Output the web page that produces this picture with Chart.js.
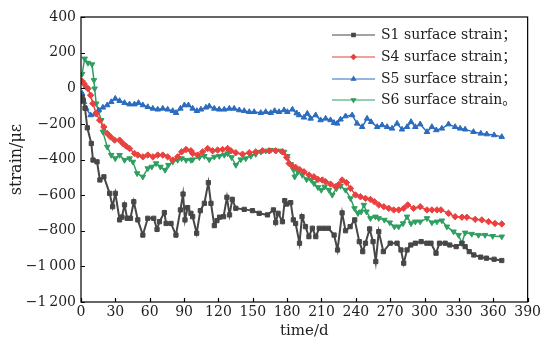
<!DOCTYPE html>
<html>
<head>
<meta charset="utf-8">
<script src="https://cdn.jsdelivr.net/npm/chart.js@4.4.1/dist/chart.umd.min.js"></script>
<style>
  html, body { margin: 0; padding: 0; background: #fff; }
  canvas { display: block; }
</style>
</head>
<body>
<canvas id="strainChart" width="543" height="342"></canvas>
<script>
// strain vs time, four surface gauges (S1, S4, S5, S6)
// each point is [day, strain in microstrain]

const xTicks = [0, 30, 60, 90, 120, 150, 180, 210, 240, 270, 300, 330, 360, 390];
const yTicks = [400, 200, 0, -200, -400, -600, -800, -1000, -1200];
const seriesNames = ['S1 surface strain\uFF1B', 'S4 surface strain\uFF1B', 'S5 surface strain\uFF1B', 'S6 surface strain\u3002'];

const s1 = [[1,-50],[2,-67],[3.5,-112],[5.5,-222],[9,-310],[10.5,-403],[14,-413],[16.5,-515],[20,-497],[25,-590],
  [27.6,-665],[30,-590],[33.7,-739],[35.7,-723],[38,-655],[40.3,-730],[43.2,-730],[46.1,-637],[49.6,-739],[54,-824],
  [58.3,-730],[63.5,-730],[66.4,-792],[68.5,-749],[72.8,-698],[74.3,-759],[78.6,-759],[82.9,-824],[86.8,-683],[89.1,-594],
  [90.8,-739],[93.1,-670],[96,-702],[97.5,-721],[101,-814],[104.2,-687],[107.7,-646],[111.2,-530],[113.5,-646],[116.4,-771],
  [118.7,-743],[121,-724],[124.5,-721],[127.4,-612],[129.7,-711],[132.1,-624],[135.2,-674],[142.5,-680],[149.7,-687],[155.6,-702],
  [162.8,-711],[168,-683],[170,-754],[172.1,-702],[175.9,-749],[177.9,-631],[179.6,-650],[183.1,-642],[185.4,-739],[187.4,-759],
  [190.8,-870],[193,-721],[196,-777],[199,-833],[202,-786],[205,-833],[208,-786],[212,-786],[216,-786],[221,-824],
  [224,-908],[228,-700],[231,-800],[235,-777],[239,-739],[243,-861],[246,-917],[248.4,-870],[252,-790],[255,-861],
  [257.4,-973],[260,-805],[264,-917],[270,-870],[276,-870],[279.4,-908],[281.8,-982],[284.7,-908],[288,-880],[292,-870],
  [297,-861],[302,-870],[305.6,-870],[310,-926],[313,-870],[318,-870],[322,-880],[327.6,-889],[332.6,-870],[335.4,-889],
  [339,-917],[343,-936],[349,-948],[354,-954],[360.7,-960],[367.4,-967]];

const s4 = [[1,40],[2.6,26],[4.6,7],[6.1,-2],[8.4,-39],[10.4,-86],[13.3,-142],[16.3,-179],[20,-217],[22.9,-254],
  [25.8,-273],[29.3,-291],[33.7,-291],[36.6,-310],[39.4,-325],[42.4,-338],[46.7,-366],[49.6,-375],[54,-385],[58.3,-375],
  [62.7,-385],[67,-375],[71.4,-375],[75.7,-385],[80.1,-403],[84.4,-385],[87.9,-357],[91.7,-344],[96,-351],[97.5,-366],
  [101.8,-375],[106.2,-357],[110.6,-338],[114.9,-351],[119.3,-347],[123.6,-344],[128,-338],[130.9,-351],[135.2,-362],[141,-370],
  [146.9,-362],[152.6,-357],[158.4,-351],[164.3,-351],[170,-351],[175.9,-357],[179.6,-388],[181.7,-422],[184.6,-437],[187.4,-444],
  [191,-457],[194.7,-469],[199.1,-487],[203.4,-497],[206.9,-512],[210.7,-515],[213.6,-525],[217.9,-538],[222.3,-553],[225,-540],
  [228,-515],[231.8,-530],[235.3,-562],[239.7,-599],[244,-609],[248.4,-618],[252.7,-624],[256.2,-637],[260,-655],[264.4,-665],
  [268.7,-674],[273.1,-683],[277.4,-683],[281.8,-674],[285.3,-655],[290.4,-674],[296.2,-665],[302.1,-683],[306.4,-683],[310.8,-683],
  [314.3,-683],[320.9,-702],[326.7,-721],[332.6,-724],[336.9,-724],[344.2,-736],[350,-739],[355.8,-749],[361.5,-759],[367.4,-762]];

const s5 = [[1,-30],[2.6,-77],[4.6,-114],[8.4,-151],[11.9,-146],[15.4,-123],[19.1,-108],[22.9,-95],[26.4,-77],[29.9,-58],
  [33.7,-71],[38,-82],[42.4,-90],[46.7,-90],[50.2,-82],[54,-95],[58.3,-105],[62.7,-114],[67,-119],[71.4,-114],
  [75.7,-119],[80.1,-127],[83,-138],[86.8,-114],[90.3,-95],[93.8,-95],[97.5,-114],[101.2,-127],[104.7,-119],[109.1,-108],
  [112,-101],[116.4,-114],[120.7,-119],[125.1,-119],[129.5,-114],[133.8,-114],[138.2,-123],[142.5,-127],[146.9,-133],[151.2,-133],
  [157,-138],[161.3,-133],[165.7,-138],[169.1,-127],[172.9,-133],[177.3,-123],[180.2,-133],[184.6,-119],[188.3,-140],[190.4,-151],
  [194.7,-164],[197.6,-142],[200.5,-170],[204.9,-151],[209.2,-179],[213.6,-170],[217.9,-179],[220.9,-194],[223.7,-198],[226.6,-175],
  [231,-157],[236.8,-151],[241.1,-198],[245.5,-217],[249.8,-170],[253.3,-189],[258.6,-217],[262.9,-207],[267.3,-217],[271.6,-226],
  [276,-198],[280.3,-231],[284.7,-217],[288.2,-189],[291.9,-217],[296.2,-202],[302.1,-245],[306.4,-217],[310.2,-235],[315.1,-226],
  [320.9,-202],[326.7,-217],[331.1,-226],[335.4,-231],[342.7,-245],[349.1,-254],[354.3,-258],[360.7,-263],[367.4,-273]];

const s6 = [[1,80],[3.2,166],[6.1,142],[9.6,134],[11.3,45],[11.9,-2],[13.3,-86],[15.4,-133],[17.7,-179],[19.1,-245],
  [22.9,-329],[26.4,-375],[29.9,-394],[33.7,-375],[38,-403],[42.4,-394],[45.3,-413],[49,-478],[54,-497],[58.3,-450],
  [61.8,-441],[65.6,-422],[69.4,-441],[73.4,-459],[76.3,-431],[80.1,-413],[84.4,-403],[87.9,-394],[91.7,-403],[96,-403],
  [97.5,-400],[103.3,-388],[107.7,-381],[112,-400],[116.4,-385],[120.7,-381],[125.1,-375],[128,-366],[131.5,-388],[135.2,-431],
  [139.5,-400],[143.9,-394],[148.3,-381],[152.6,-370],[157,-357],[161.3,-351],[165.7,-347],[170,-351],[174.4,-351],[177.3,-357],
  [180.2,-381],[183.1,-426],[185.4,-456],[186.6,-497],[189.5,-469],[193.3,-487],[197,-512],[201.1,-515],[203.4,-534],[206.9,-556],
  [209.8,-571],[212.7,-553],[216.5,-571],[219.4,-599],[223.1,-562],[226.6,-549],[231,-571],[235.3,-618],[238.8,-674],[241.8,-702],
  [244.6,-693],[247,-655],[249.3,-693],[252.7,-730],[257.1,-721],[260,-730],[264.9,-739],[269.6,-754],[273.6,-777],[277.4,-777],
  [281.2,-759],[284.7,-721],[288.2,-759],[291.9,-749],[296.2,-749],[302.1,-730],[306.4,-754],[310.8,-749],[315.1,-743],[319.5,-777],
  [325.3,-805],[329.7,-824],[332.6,-870],[335.4,-811],[341.2,-818],[347.1,-824],[352.8,-824],[359.5,-830],[367.4,-833]];

const FONT = "'DejaVu Serif', 'Liberation Serif', 'Noto Sans CJK SC', serif";
const INK = '#1e1e1e';

function pts(arr) { return arr.map(p => ({ x: p[0], y: p[1] })); }

function series(label, arr, color, style, opts) {
    return Object.assign({
        label: label,
        data: pts(arr),
        borderColor: color,
        backgroundColor: color,
        pointBackgroundColor: color,
        pointBorderColor: color,
        pointBorderWidth: 1,
        pointStyle: style,
        pointRadius: 3.2,
        borderWidth: 1.5,
        tension: 0
    }, opts || {});
}

function fmtStrain(v) {
    const a = Math.abs(v);
    let s = a >= 1000 ? Math.floor(a / 1000) + '\u2009' + String(a % 1000).padStart(3, '0') : String(a);
    return (v < 0 ? '\u2212' : '') + s;
}

// inward tick marks + closed frame around the plot
const frameTicks = {
    id: 'frameTicks',
    afterDraw(chart) {
        const { ctx, chartArea: a, scales } = chart;
        ctx.save();
        ctx.strokeStyle = '#000';
        ctx.lineWidth = 1.2;
        ctx.strokeRect(a.left, a.top, a.right - a.left, a.bottom - a.top);
        ctx.beginPath();
        xTicks.forEach(t => {
            const x = Math.round(scales.x.getPixelForValue(t)) + 0.5;
            ctx.moveTo(x, a.bottom); ctx.lineTo(x, a.bottom - 4);
        });
        yTicks.forEach(t => {
            const y = Math.round(scales.y.getPixelForValue(t)) + 0.5;
            ctx.moveTo(a.left, y); ctx.lineTo(a.left + 4, y);
        });
        ctx.stroke();
        ctx.restore();
    }
};

// legend in the top-right corner: line with a marker in the middle, then text
const cornerLegend = {
    id: 'cornerLegend',
    afterDraw(chart) {
        const ctx = chart.ctx;
        const rows = [35, 57, 79, 100];
        ctx.save();
        chart.data.datasets.forEach((ds, i) => {
            const y = rows[i];
            ctx.strokeStyle = ds.borderColor;
            ctx.fillStyle = ds.borderColor;
            ctx.lineWidth = 1.2;
            ctx.beginPath();
            ctx.moveTo(332, y); ctx.lineTo(375, y);
            ctx.stroke();
            Chart.helpers.drawPoint(ctx, {
                pointStyle: ds.pointStyle, radius: 2.4, rotation: ds.pointRotation || 0, borderWidth: 1
            }, 353.5, y);
            ctx.fillStyle = INK;
            ctx.font = '14px ' + FONT;
            ctx.textBaseline = 'middle';
            ctx.textAlign = 'left';
            ctx.fillText(seriesNames[i], 381, y);
        });
        ctx.restore();
    }
};

const ctx = document.getElementById('strainChart');
new Chart(ctx, {
    type: 'line',
    data: {
        datasets: [
            series(seriesNames[0], s1, '#474747', 'rect', { borderWidth: 2, pointRadius: 3 }),
            series(seriesNames[1], s4, '#e8413f', 'rectRot'),
            series(seriesNames[2], s5, '#2b6cbf', 'triangle'),
            series(seriesNames[3], s6, '#2f9f60', 'triangle', { pointRotation: 180 })
        ]
    },
    options: {
        responsive: false,
        animation: false,
        layout: { padding: { top: 17, right: 14, left: 0, bottom: 0 } },
        plugins: { legend: { display: false }, tooltip: { enabled: false } },
        scales: {
            x: {
                type: 'linear', min: 0, max: 390,
                afterBuildTicks: s => { s.ticks = xTicks.map(v => ({ value: v })); },
                ticks: { autoSkip: false, maxRotation: 0, padding: 2, color: INK, font: { family: FONT, size: 14 } },
                grid: { display: false, drawTicks: false },
                border: { display: false },
                title: { display: true, text: 'time/d', color: INK, font: { family: FONT, size: 15 }, padding: { top: 0, bottom: 2 } },
                afterFit: s => { s.height = 40; }
            },
            y: {
                type: 'linear', min: -1200, max: 400,
                afterBuildTicks: s => { s.ticks = yTicks.map(v => ({ value: v })); },
                ticks: { padding: 5, color: INK, font: { family: FONT, size: 14 }, callback: v => fmtStrain(v) },
                grid: { display: false, drawTicks: false },
                border: { display: false },
                title: { display: true, text: 'strain/\u03BC\u03B5', color: INK, font: { family: FONT, size: 16 }, padding: { top: 7, bottom: 0 } },
                afterFit: s => { s.width = 81; }
            }
        }
    },
    plugins: [frameTicks, cornerLegend]
});
</script>
</body>
</html>
